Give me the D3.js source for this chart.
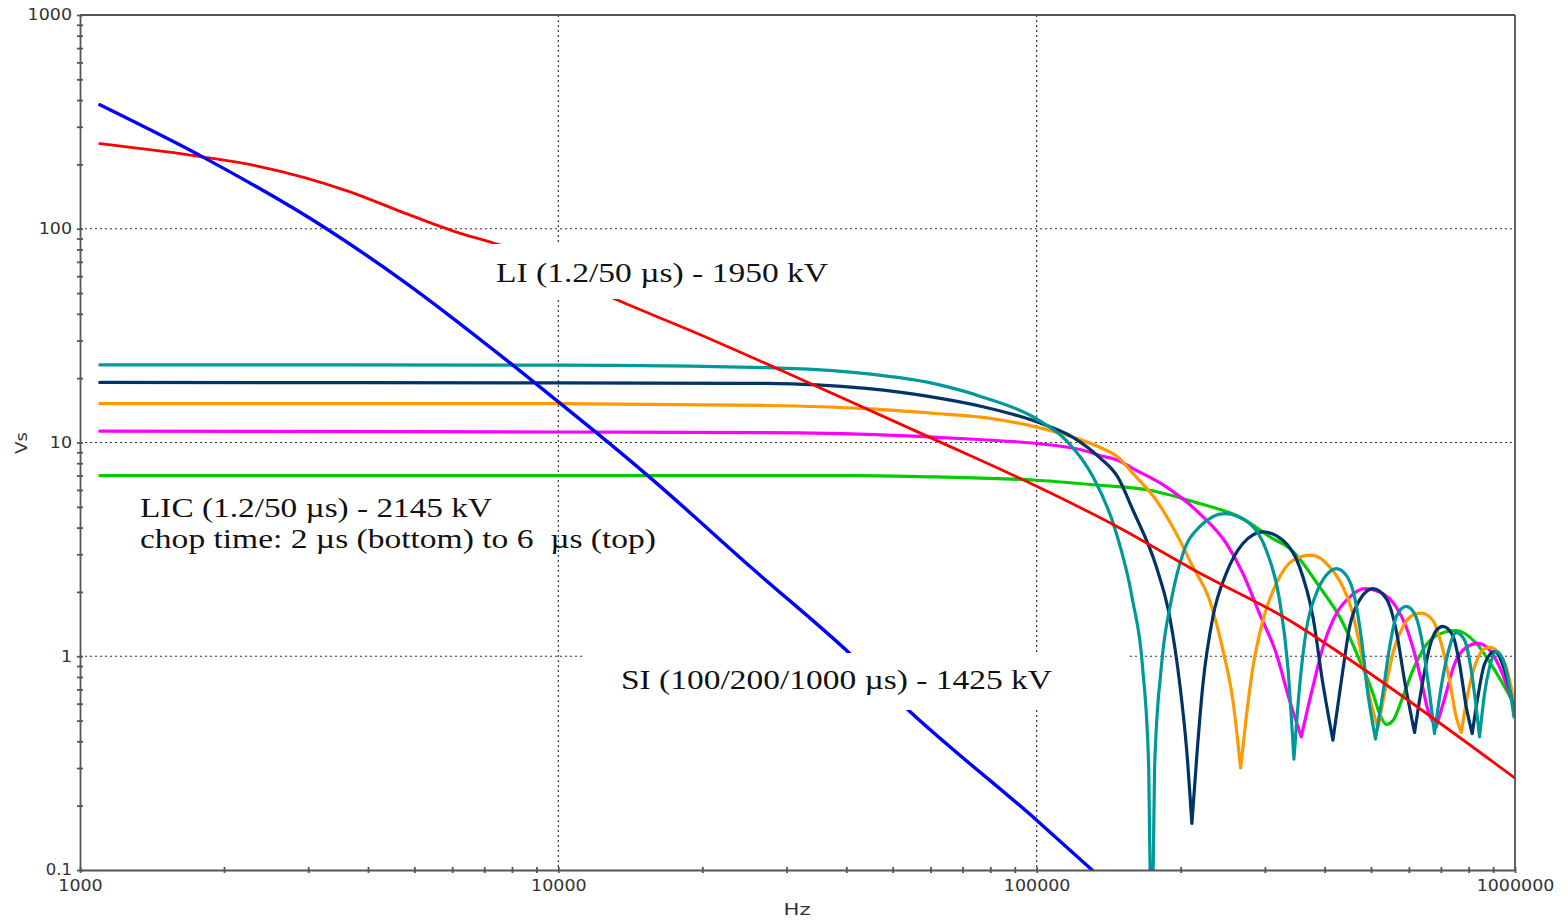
<!doctype html>
<html lang="en">
<head>
<meta charset="UTF-8">
<title>Impulse spectra</title>
<style>
  body { margin: 0; background: #fff; }
  svg { display: block; }
  .axis text { font-family: "DejaVu Sans", sans-serif; font-size: 15px; fill: #333; }
  .axis path, .axis line { stroke: #555; stroke-width: 1.8; }
  .grid line { stroke: #333; stroke-width: 1.2; stroke-dasharray: 2,3; }
  .note { font-family: "Liberation Serif", "Times New Roman", serif; font-size: 27px; fill: #111; }
  .title { font-family: "DejaVu Sans", sans-serif; font-size: 15px; fill: #333; }
</style>
</head>
<body>
<svg id="chart" width="1568" height="920"></svg>
<script src="https://d3js.org/d3.v7.min.js"></script>
<script>
const xTickLabels = ['1000', '10000', '100000', '1000000']
const yTickLabels = ['0.1', '1', '10', '100', '1000']

// SI (100/200/1000 us) - 1425 kV
const siData = [
  [1100, 380], [1824, 214], [3276, 100], [4700, 57.7], [7862, 23.9], [10000, 15.5],
  [12080, 11.0], [15380, 7.0], [25310, 2.6], [40870, 1.02], [53900, 0.56],
  [100000, 0.171], [130600, 0.1]
]

// LI (1.2/50 us) - 1950 kV
const liData = [
  [1100, 250], [1824, 216], [2361, 196], [3631, 150], [4700, 120], [6075, 97],
  [7535, 84], [13400, 46], [18830, 33.5], [29040, 21.9], [60730, 10.4],
  [100000, 6.24], [145500, 4.1], [219100, 2.45], [337900, 1.47], [440300, 1.0],
  [1000000, 0.269]
]

// LIC chopped, 2 us ... 6 us
const lic2 = [
  [1100, 7.0], [10000, 7.0], [42000, 7.0], [61700, 6.9], [100000, 6.66], [135400, 6.31],
  [172300, 5.98], [219100, 5.18], [265600, 4.48], [311800, 3.55], [337900, 3.2],
  [354500, 2.85], [390300, 2.11], [429800, 1.53], [473200, 0.96], [504600, 0.67],
  [521000, 0.54], [538100, 0.48], [555500, 0.5], [582800, 0.645], [611600, 0.86],
  [641900, 1.07], [684400, 1.25], [753500, 1.32], [829600, 1.15], [898900, 0.89],
  [995000, 0.6]
]
const lic3 = [
  [1100, 11.3], [10000, 11.2], [31960, 11.1], [60700, 10.6], [77200, 10.3], [100000, 9.89],
  [125000, 9.2], [135400, 8.7], [147700, 8.26], [159000, 7.55], [186600, 6.2],
  [219100, 4.65], [249100, 3.37], [269900, 2.44], [292400, 1.58], [316900, 1.03],
  [337900, 0.62], [357400, 0.42], [378000, 0.72], [396600, 1.1], [423000, 1.58],
  [451000, 1.89], [484800, 2.07], [521000, 2.0], [564500, 1.7], [592300, 1.37],
  [616600, 1.03], [636800, 0.77], [657500, 0.56], [684400, 0.467], [714100, 0.645],
  [747500, 0.92], [790700, 1.1], [836200, 1.15], [884800, 1.07], [928400, 0.89],
  [995000, 0.58]
]
const lic4 = [
  [1100, 15.2], [10000, 15.2], [27200, 14.9], [44000, 14.4], [60700, 13.7], [77200, 13.1],
  [100000, 11.8], [118900, 10.6], [135400, 9.5], [147700, 8.56], [159000, 7.16],
  [177900, 5.37], [195800, 3.75], [212100, 2.62], [229900, 1.83], [245100, 1.07],
  [257200, 0.62], [266900, 0.3], [274300, 0.52], [283300, 0.89], [297100, 1.47],
  [316900, 2.19], [343400, 2.81], [375000, 2.97], [409600, 2.62], [436600, 2.11],
  [458100, 1.58], [476900, 1.03], [496600, 0.645], [516900, 0.46], [533600, 0.67],
  [555500, 1.03], [582800, 1.37], [611600, 1.56], [636800, 1.59], [673500, 1.47],
  [701100, 1.15], [729800, 0.77], [753500, 0.52], [772200, 0.44], [797200, 0.67],
  [823000, 0.89], [856500, 1.07], [884800, 1.1], [920400, 1.05], [960000, 0.88],
  [995000, 0.62]
]
const lic5 = [
  [1100, 19.1], [10000, 19.0], [27200, 18.9], [44000, 17.9], [60700, 16.3], [77200, 14.7],
  [100000, 12.5], [118900, 10.6], [135400, 8.5], [147700, 6.9], [159000, 4.82],
  [177900, 2.62], [189700, 1.53], [199100, 0.745], [205900, 0.363], [211100, 0.165],
  [216600, 0.363], [222700, 0.745], [233600, 1.53], [249100, 2.44], [269900, 3.37],
  [297100, 3.82], [327100, 3.49], [354500, 2.62], [378000, 1.53], [396600, 0.745],
  [416200, 0.405], [436600, 0.86], [451000, 1.37], [473200, 1.83], [504600, 2.07],
  [538100, 1.86], [564500, 1.32], [587500, 0.77], [616600, 0.44], [641900, 0.77],
  [662800, 1.1], [684400, 1.32], [706600, 1.38], [741300, 1.25], [765800, 0.92],
  [790700, 0.58], [813900, 0.435], [836200, 0.645], [863700, 0.92], [906200, 1.05],
  [951000, 0.86], [995000, 0.56]
]
const lic6 = [
  [1100, 23.1], [10000, 23.0], [27200, 22.4], [44000, 21.0], [60700, 18.9], [77200, 16.3],
  [100000, 12.9], [115400, 10.2], [131200, 6.9], [145500, 4.0], [158700, 1.83],
  [166500, 0.89], [171500, 0.3], [173900, 0.03], [176400, 0.3], [182200, 0.89],
  [191200, 1.83], [202200, 3.02], [219000, 4.03], [247100, 4.65], [278700, 4.18],
  [302000, 3.13], [322000, 1.83], [335100, 0.89], [345000, 0.33], [354500, 0.72],
  [366000, 1.32], [384100, 1.96], [403000, 2.39], [423000, 2.57], [444000, 2.39],
  [462000, 1.89], [476900, 1.23], [492500, 0.67], [511000, 0.41], [529400, 0.67],
  [546700, 1.1], [564500, 1.53], [592300, 1.71], [616600, 1.58], [636800, 1.23],
  [657500, 0.77], [678800, 0.435], [701100, 0.72], [723700, 1.03], [753500, 1.29],
  [784500, 1.19], [810000, 0.86], [843200, 0.42], [863700, 0.67], [884800, 0.89],
  [913200, 1.05], [951000, 0.92], [995000, 0.52]
]

const series = [
  { points: lic2, color: '#00cc00', width: 3.2, sharp: false },
  { points: lic3, color: '#ff00ff', width: 3.2, sharp: true },
  { points: lic4, color: '#ff9900', width: 3.2, sharp: true },
  { points: lic5, color: '#003366', width: 3.2, sharp: true },
  { points: lic6, color: '#009999', width: 3.2, sharp: true },
  { points: liData, color: '#ff0000', width: 2.8, sharp: false },
  { points: siData, color: '#0000ff', width: 3.4, sharp: false }
]

const plotLeft = 80, plotRight = 1515, plotTop = 15, plotBottom = 870

const x = d3.scaleLog().domain([1000, 1000000]).range([plotLeft, plotRight])
const y = d3.scaleLog().domain([0.1, 1000]).range([plotBottom, plotTop])

const svg = d3.select('#chart')

svg.append('defs').append('clipPath')
  .attr('id', 'plot-clip')
  .append('rect')
  .attr('x', plotLeft).attr('y', plotTop)
  .attr('width', plotRight - plotLeft).attr('height', plotBottom - plotTop)

// gridlines at inner decades
const grid = svg.append('g').attr('class', 'grid')
grid.selectAll('.vgrid')
  .data([10000, 100000])
  .enter().append('line')
  .attr('x1', d => x(d)).attr('x2', d => x(d))
  .attr('y1', plotTop).attr('y2', plotBottom)
grid.selectAll('.hgrid')
  .data([1, 10, 100])
  .enter().append('line')
  .attr('x1', plotLeft).attr('x2', plotRight)
  .attr('y1', d => y(d)).attr('y2', d => y(d))

function splitAtNotches(points) {
  const parts = []
  let start = 0
  for (let i = 1; i < points.length - 1; i++) {
    if (points[i][1] < points[i - 1][1] && points[i][1] < points[i + 1][1]) {
      parts.push(points.slice(start, i + 1))
      start = i
    }
  }
  parts.push(points.slice(start))
  return parts
}

const line = d3.line()
  .x(d => x(d[0]))
  .y(d => y(d[1]))
  .curve(d3.curveMonotoneX)

svg.append('g')
  .attr('clip-path', 'url(#plot-clip)')
  .selectAll('path')
  .data(series)
  .enter().append('path')
  .attr('fill', 'none')
  .attr('stroke', d => d.color)
  .attr('stroke-width', d => d.width)
  .attr('stroke-linejoin', 'round')
  .attr('stroke-linecap', 'round')
  .attr('d', d => d.sharp ? splitAtNotches(d.points).map(p => line(p)).join('') : line(d.points))

// label boxes hide what runs under them
const notes = svg.append('g')
notes.append('rect').attr('x', 486).attr('y', 244).attr('width', 356).attr('height', 55).attr('fill', '#fff')
notes.append('rect').attr('x', 585).attr('y', 653).attr('width', 545).attr('height', 57).attr('fill', '#fff')

const noteText = [
  { text: 'LI (1.2/50 \u00b5s) - 1950 kV', x: 496, y: 282, len: 332 },
  { text: 'SI (100/200/1000 \u00b5s) - 1425 kV', x: 621, y: 689, len: 431 },
  { text: 'LIC (1.2/50 \u00b5s) - 2145 kV', x: 140, y: 517, len: 352 },
  { text: 'chop time: 2 \u00b5s (bottom) to 6  \u00b5s (top)', x: 140, y: 548, len: 516 }
]
notes.selectAll('text')
  .data(noteText)
  .enter().append('text')
  .attr('class', 'note')
  .attr('x', d => d.x)
  .attr('y', d => d.y)
  .attr('textLength', d => d.len)
  .attr('lengthAdjust', 'spacingAndGlyphs')
  .style('white-space', 'pre')
  .text(d => d.text)

// axes with minor ticks crossing the line
function logTicks(lo, hi) {
  const out = []
  for (let e = lo; e < hi; e++) {
    for (let m = 1; m < 10; m++) out.push(m * Math.pow(10, e))
  }
  out.push(Math.pow(10, hi))
  return out
}
const xDecades = xTickLabels.map(Number)
const yDecades = yTickLabels.map(Number)
const labelFor = (decades, labels) => d => {
  const i = decades.findIndex(v => Math.abs(v - d) / v < 1e-6)
  return i >= 0 ? labels[i] : ''
}
const labelWidth = s => s.replace(/\./g, '').length * 11.1 + (s.includes('.') ? 4 : 0)

const xAxis = d3.axisBottom(x)
  .tickValues(logTicks(3, 6))
  .tickFormat(labelFor(xDecades, xTickLabels))
  .tickSizeInner(3).tickSizeOuter(0).tickPadding(7)
const yAxis = d3.axisLeft(y)
  .tickValues(logTicks(-1, 3))
  .tickFormat(labelFor(yDecades, yTickLabels))
  .tickSizeInner(3).tickSizeOuter(0).tickPadding(5)

const gx = svg.append('g')
  .attr('class', 'axis')
  .attr('transform', `translate(0, ${plotBottom})`)
  .call(xAxis)
gx.selectAll('.tick line').attr('y1', -3).attr('y2', 3)

const gy = svg.append('g')
  .attr('class', 'axis')
  .attr('transform', `translate(${plotLeft}, 0)`)
  .call(yAxis)
gy.selectAll('.tick line').attr('x1', -3).attr('x2', 3)

svg.selectAll('.axis .tick text')
  .filter(function () { return this.textContent !== '' })
  .attr('textLength', function () { return labelWidth(this.textContent) })
  .attr('lengthAdjust', 'spacingAndGlyphs')

// frame top and right
svg.append('line')
  .attr('x1', plotLeft).attr('x2', plotRight).attr('y1', plotTop).attr('y2', plotTop)
  .attr('stroke', '#555').attr('stroke-width', 1.8)
svg.append('line')
  .attr('x1', plotRight).attr('x2', plotRight).attr('y1', plotTop).attr('y2', plotBottom)
  .attr('stroke', '#555').attr('stroke-width', 1.8)

svg.append('text')
  .attr('class', 'title')
  .attr('x', 797).attr('y', 915)
  .attr('text-anchor', 'middle')
  .attr('textLength', 27)
  .attr('lengthAdjust', 'spacingAndGlyphs')
  .text('Hz')

svg.append('text')
  .attr('class', 'title')
  .attr('transform', 'translate(27, 443) rotate(-90)')
  .attr('text-anchor', 'middle')
  .attr('textLength', 22)
  .attr('lengthAdjust', 'spacingAndGlyphs')
  .text('Vs')
</script>
</body>
</html>
